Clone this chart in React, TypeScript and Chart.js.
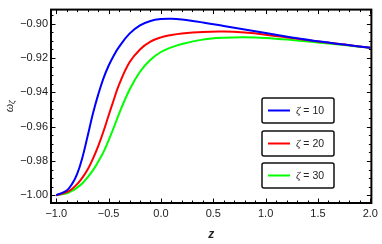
import React, { useEffect, useRef } from 'react';
import { Chart, registerables } from 'chart.js';

Chart.register(...registerables);

const zValues = [-1, -0.9, -0.85, -0.8, -0.75, -0.7, -0.65, -0.6, -0.55, -0.5, -0.45, -0.4, -0.3, -0.2, -0.1, 0, 0.1, 0.2, 0.4, 0.6, 0.8, 1.0, 1.25, 1.5, 1.75, 2.0];
const omegaZeta10 = [-1.0, -0.9972, -0.9935, -0.9875, -0.978, -0.9655, -0.9525, -0.9415, -0.932, -0.9245, -0.9185, -0.9135, -0.9058, -0.901, -0.8984, -0.8973, -0.8971, -0.8976, -0.8993, -0.9013, -0.9034, -0.9055, -0.908, -0.9103, -0.9122, -0.914];
const omegaZeta20 = [-1.0, -0.9982, -0.9963, -0.9935, -0.9897, -0.985, -0.9788, -0.9715, -0.963, -0.9535, -0.9443, -0.9355, -0.9225, -0.915, -0.9105, -0.908, -0.9066, -0.9057, -0.9048, -0.9046, -0.9052, -0.9064, -0.9084, -0.9104, -0.9122, -0.914];
const omegaZeta30 = [-1.0, -0.9988, -0.9975, -0.9955, -0.993, -0.9895, -0.9855, -0.9805, -0.975, -0.968, -0.9605, -0.9525, -0.9385, -0.928, -0.921, -0.9165, -0.9138, -0.9118, -0.9093, -0.9082, -0.9079, -0.9083, -0.9095, -0.911, -0.9125, -0.914];
const zetaLabels = ['10', '20', '30'];
const seriesColors = ['#0000ff', '#ff0000', '#00ff00'];
const xTickValues = [-1, -0.5, 0, 0.5, 1, 1.5, 2];
const yTickValues = [-1.0, -0.98, -0.96, -0.94, -0.92, -0.9];

const fmt = (v: number, d: number) => v.toFixed(d).replace('-', '\u2212');

const framePlugin = {
  id: 'frame',
  afterDatasetsDraw(chart: any) {
    const { ctx, chartArea: a, scales } = chart;
    const xs = scales.x;
    const ys = scales.y;
    ctx.save();
    ctx.strokeStyle = '#000';
    ctx.lineWidth = 1;
    const drawX = (v: number, len: number) => {
      const px = Math.round(xs.getPixelForValue(v)) + 0.5;
      ctx.beginPath();
      ctx.moveTo(px, a.bottom);
      ctx.lineTo(px, a.bottom - len);
      ctx.moveTo(px, a.top);
      ctx.lineTo(px, a.top + len);
      ctx.stroke();
    };
    const drawY = (v: number, len: number) => {
      const py = Math.round(ys.getPixelForValue(v)) + 0.5;
      ctx.beginPath();
      ctx.moveTo(a.left, py);
      ctx.lineTo(a.left + len, py);
      ctx.moveTo(a.right, py);
      ctx.lineTo(a.right - len, py);
      ctx.stroke();
    };
    for (let i = -10; i <= 20; i++) {
      drawX(i / 10, i % 5 === 0 ? 4.5 : 2.5);
    }
    for (let i = 0; i <= 21; i++) {
      const v = -1.0 + i * 0.005;
      if (v > ys.max) break;
      drawY(v, i % 4 === 0 ? 4.5 : 2.5);
    }
    ctx.lineWidth = 2;
    ctx.strokeRect(a.left, a.top, a.right - a.left, a.bottom - a.top);

    ctx.fillStyle = '#222';
    ctx.font = 'bold italic 12px "Liberation Sans", Arial, sans-serif';
    ctx.textAlign = 'center';
    ctx.textBaseline = 'middle';
    ctx.fillText('z', (a.left + a.right) / 2, 235);

    ctx.save();
    ctx.translate(9, (a.top + a.bottom) / 2);
    ctx.rotate(-Math.PI / 2);
    ctx.textAlign = 'left';
    ctx.textBaseline = 'alphabetic';
    ctx.font = 'italic 12px "Liberation Serif", serif';
    const w1 = ctx.measureText('\u03c9').width;
    ctx.font = 'italic 9px "Liberation Serif", serif';
    const w2 = ctx.measureText('\u03b6').width;
    const start = -(w1 + w2) / 2;
    ctx.font = 'italic 12px "Liberation Serif", serif';
    ctx.fillText('\u03c9', start, 4);
    ctx.font = 'italic 9px "Liberation Serif", serif';
    ctx.fillText('\u03b6', start + w1, 6);
    ctx.restore();

    const boxTops = [98, 131, 163];
    chart.data.datasets.forEach((ds: any, i: number) => {
      const left = 262;
      const right = 334;
      const top = boxTops[i];
      const h = 25;
      ctx.fillStyle = '#fff';
      ctx.lineWidth = 1.5;
      ctx.strokeStyle = '#111';
      ctx.beginPath();
      (ctx as any).roundRect ? (ctx as any).roundRect(left, top, right - left, h, 2) : ctx.rect(left, top, right - left, h);
      ctx.fill();
      ctx.stroke();
      const cy = top + h / 2;
      ctx.strokeStyle = ds.borderColor;
      ctx.lineWidth = 2;
      ctx.beginPath();
      ctx.moveTo(268, cy);
      ctx.lineTo(290, cy);
      ctx.stroke();
      ctx.fillStyle = '#222';
      ctx.textAlign = 'left';
      ctx.textBaseline = 'middle';
      ctx.font = 'italic 11px "Liberation Serif", serif';
      ctx.fillText('\u03b6', 296, cy + 0.5);
      const zw = ctx.measureText('\u03b6').width;
      ctx.font = '10.5px "Liberation Sans", Arial, sans-serif';
      ctx.fillText(' = ' + zetaLabels[i], 296 + zw, cy + 0.5);
    });
    ctx.restore();
  },
};

export default function App() {
  const ref = useRef<HTMLCanvasElement>(null);
  useEffect(() => {
    if (!ref.current) return;
    const series = [omegaZeta10, omegaZeta20, omegaZeta30];
    const chart = new Chart(ref.current, {
      type: 'line',
      data: {
        datasets: series.map((s, i) => ({
          label: '\u03b6 = ' + zetaLabels[i],
          data: zValues.map((z, j) => ({ x: z, y: s[j] })),
          borderColor: seriesColors[i],
          backgroundColor: seriesColors[i],
          borderWidth: 2,
          pointRadius: 0,
          tension: 0.4,
          fill: false,
        })),
      },
      options: {
        animation: false,
        responsive: false,
        devicePixelRatio: 1,
        layout: { padding: { top: 2, right: 4, left: 0, bottom: 0 } },
        plugins: { legend: { display: false }, tooltip: { enabled: false } },
        scales: {
          x: {
            type: 'linear',
            min: -1.05,
            max: 2.01,
            afterBuildTicks: (s: any) => { s.ticks = xTickValues.map((v) => ({ value: v })); },
            afterFit: (s: any) => { s.height = 41; },
            grid: { display: false, drawTicks: false },
            border: { display: false },
            ticks: {
              padding: 4,
              maxRotation: 0,
              autoSkip: false,
              color: '#222',
              font: { family: '"Liberation Sans", Arial, sans-serif', size: 11 },
              callback: (v: any) => fmt(Number(v), 1),
            },
          },
          y: {
            type: 'linear',
            min: -1.0045,
            max: -0.8918,
            afterBuildTicks: (s: any) => { s.ticks = yTickValues.map((v) => ({ value: v })); },
            afterFit: (s: any) => { s.width = 51; },
            grid: { display: false, drawTicks: false },
            border: { display: false },
            ticks: {
              padding: 3,
              autoSkip: false,
              color: '#222',
              font: { family: '"Liberation Sans", Arial, sans-serif', size: 11 },
              callback: (v: any) => fmt(Number(v), 2),
            },
          },
        },
      },
      plugins: [framePlugin],
    });
    return () => chart.destroy();
  }, []);
  return (
    <div style={{ position: 'absolute', left: 0, top: 0, width: 382, height: 244, background: '#fff' }}>
      <canvas ref={ref} width={382} height={244} />
    </div>
  );
}
